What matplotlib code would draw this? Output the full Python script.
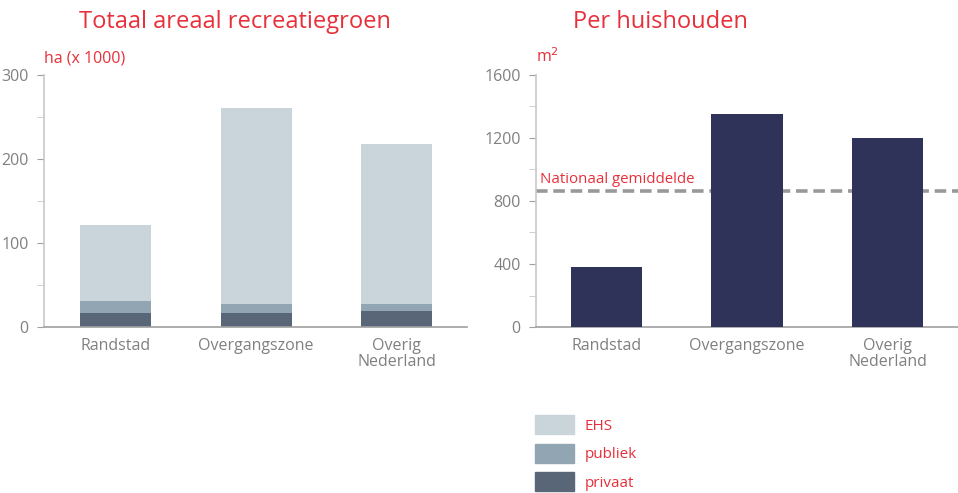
import matplotlib.pyplot as plt
from matplotlib.patches import Patch
from matplotlib.ticker import MultipleLocator

plt.rcParams['font.family'] = ['Open Sans', 'DejaVu Sans']

# data
regio = ['Randstad', 'Overgangszone', 'Overig\nNederland']
privaat = [17, 17, 19]
publiek = [14, 10.5, 8.5]
ehs = [90, 233, 190.5]
per_huishouden = [380, 1350, 1200]
nationaal_gem = 865

RED = '#e8303a'
GRAY = '#808080'
c_ehs, c_pub, c_priv = '#c9d4db', '#92a5b3', '#586678'
c_bar = '#2f3359'

fig = plt.figure(figsize=(9.58, 4.93), dpi=100)
ax1 = fig.add_axes([0.0459, 0.3367, 0.4415, 0.5112])
ax2 = fig.add_axes([0.5595, 0.3367, 0.4405, 0.5112])

x = range(len(regio))
bot2 = [a + b for a, b in zip(privaat, publiek)]
ax1.bar(x, privaat, width=0.505, color=c_priv)
ax1.bar(x, publiek, width=0.505, bottom=privaat, color=c_pub)
ax1.bar(x, ehs, width=0.505, bottom=bot2, color=c_ehs)
ax1.set_xlim(-0.51, 2.50)
ax1.set_ylim(0, 300)
ax1.yaxis.set_major_locator(MultipleLocator(100))
ax1.yaxis.set_minor_locator(MultipleLocator(50))

ax2.bar(x, per_huishouden, width=0.505, color=c_bar, zorder=3)
ax2.axhline(nationaal_gem, color='#999999', lw=2.6, ls=(0, (3.2, 1.6)), zorder=2)
ax2.text(0.01, nationaal_gem + 25, 'Nationaal gemiddelde', color=RED, fontsize=10.8,
         transform=ax2.get_yaxis_transform(), va='bottom', ha='left', zorder=1)
ax2.set_xlim(-0.5, 2.5)
ax2.set_ylim(0, 1600)
ax2.yaxis.set_major_locator(MultipleLocator(400))
ax2.yaxis.set_minor_locator(MultipleLocator(200))

for ax in (ax1, ax2):
    for s in ('top', 'right'):
        ax.spines[s].set_visible(False)
    ax.spines['left'].set_color('#c8c8c8')
    ax.spines['bottom'].set_color('#a0a0a0')
    ax.spines['left'].set_linewidth(1.2)
    ax.spines['bottom'].set_linewidth(1.2)
    ax.set_xticks(list(x))
    ax.set_xticklabels(regio, linespacing=1.0)
    ax.tick_params(axis='x', length=0, pad=8, labelsize=11.5, labelcolor=GRAY)
    ax.tick_params(axis='y', which='major', length=5, color='#a0a0a0', labelsize=11.5, labelcolor=GRAY, pad=6)
    ax.tick_params(axis='y', which='minor', length=5, color='#c8c8c8')

fig.text(0.245, 0.955, 'Totaal areaal recreatiegroen', color=RED, fontsize=17, ha='center', va='center')
fig.text(0.689, 0.955, 'Per huishouden', color=RED, fontsize=17, ha='center', va='center')
ax1.text(0.0, 1.035, 'ha (x 1000)', color=RED, fontsize=11.5, transform=ax1.transAxes, ha='left', va='bottom')
ax2.text(0.0, 1.035, 'm$^2$', color=RED, fontsize=11.5, transform=ax2.transAxes, ha='left', va='bottom')

handles = [Patch(color=c_ehs), Patch(color=c_pub), Patch(color=c_priv)]
leg = fig.legend(handles, ['EHS', 'publiek', 'privaat'], loc='upper left',
                 bbox_to_anchor=(0.558, 0.158), frameon=False, fontsize=11,
                 handlelength=2.55, handleheight=1.55, labelspacing=0.62,
                 handletextpad=0.72, borderpad=0, borderaxespad=0)
for t in leg.get_texts():
    t.set_color(RED)

fig.savefig('out.png', dpi=100)
